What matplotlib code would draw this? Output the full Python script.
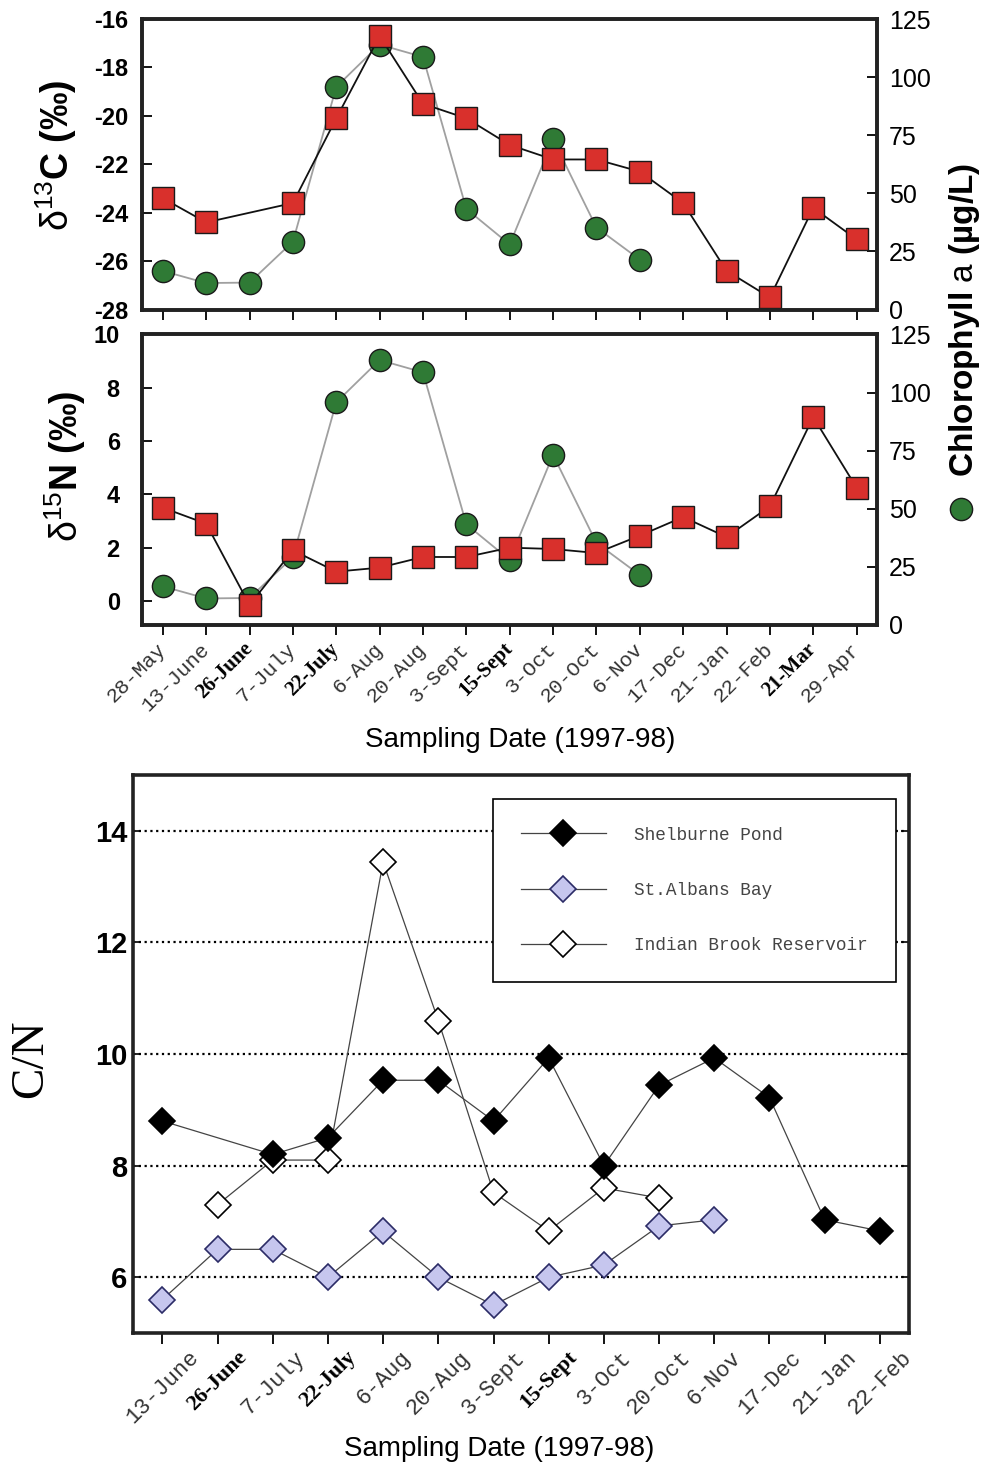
import numpy as np
import pandas as pd
import matplotlib
matplotlib.use('Agg')
import matplotlib.pyplot as plt
from matplotlib.lines import Line2D

plt.rcParams['font.family'] = ['Liberation Sans', 'DejaVu Sans']
plt.rcParams['mathtext.fontset'] = 'custom'
plt.rcParams['mathtext.rm'] = 'Liberation Sans'
plt.rcParams['mathtext.it'] = 'Liberation Sans:italic'
plt.rcParams['mathtext.bf'] = 'Liberation Sans:bold'

# Isotope / chlorophyll data (top two panels)
dates_iso = ['28-May', '13-June', '26-June', '7-July', '22-July', '6-Aug', '20-Aug',
             '3-Sept', '15-Sept', '3-Oct', '20-Oct', '6-Nov', '17-Dec', '21-Jan',
             '22-Feb', '21-Mar', '29-Apr']
d13c = [-23.4, -24.4, np.nan, -23.6, -20.1, -16.7, -19.5, -20.1, -21.2, -21.8,
        -21.8, -22.3, -23.6, -26.4, -27.5, -23.8, -25.1]
d15n = [3.5, 2.9, -0.15, 1.9, 1.1, 1.25, 1.65, 1.65, 2.0, 1.95, 1.8, 2.45,
        3.15, 2.4, 3.55, 6.9, 4.25]
chl_a = [16.6, 11.4, 11.6, 29.2, 95.8, 114.0, 108.7, 43.3, 28.0, 73.2, 35.3, 21.5]

# C/N data (bottom panel)
dates_cn = ['13-June', '26-June', '7-July', '22-July', '6-Aug', '20-Aug', '3-Sept',
            '15-Sept', '3-Oct', '20-Oct', '6-Nov', '17-Dec', '21-Jan', '22-Feb']
shelburne = [8.8, np.nan, 8.2, 8.5, 9.53, 9.53, 8.8, 9.93, 8.0, 9.44, 9.93, 9.22, 7.03, 6.83]
st_albans = [5.6, 6.5, 6.5, 6.0, 6.82, 6.0, 5.5, 6.0, 6.22, 6.92, 7.03, np.nan, np.nan, np.nan]
indian_brook = [np.nan, 7.3, 8.1, 8.1, 13.44, 10.6, 7.52, 6.83, 7.6, 7.42, np.nan, np.nan, np.nan, np.nan]
cn_names = ['Shelburne Pond', 'St.Albans Bay', 'Indian Brook Reservoir']

bold_dates = ['26-June', '22-July', '15-Sept', '21-Mar']

RED = '#d9302c'
GREEN = '#2f7a35'


def series(values):
    s = pd.Series(values, dtype=float).dropna()
    return s.index.values, s.values


def style_ticklabels(labels):
    for lbl in labels:
        if lbl.get_text() in bold_dates:
            lbl.set_fontfamily('Liberation Serif')
            lbl.set_fontweight('bold')
        else:
            lbl.set_fontfamily('Liberation Mono')
            lbl.set_color('#333333')


fig = plt.figure(figsize=(9.86, 14.67), dpi=100)

ax1 = fig.add_axes([0.144, 0.789, 0.745, 0.198])
ax1r = ax1.twinx()
ax2 = fig.add_axes([0.144, 0.574, 0.745, 0.198])
ax2r = ax2.twinx()
ax3 = fig.add_axes([0.135, 0.0913, 0.787, 0.3804])

x_iso = np.arange(len(dates_iso))

# top and middle panels
for ax, axr, vals, ylim, yticks, pad in [
        (ax1, ax1r, d13c, (-28, -16), range(-28, -15, 2), 10),
        (ax2, ax2r, d15n, (-0.9, 10), range(0, 11, 2), 16)]:
    xs, ys = series(chl_a)
    axr.plot(xs, ys, color='#a0a0a0', lw=1.3, marker='o', ms=16,
             mfc=GREEN, mec='#1a1a1a', mew=1.0)
    xs, ys = series(vals)
    ax.plot(xs, ys, color='#111111', lw=1.3, marker='s', ms=15.5,
            mfc=RED, mec='#1a1a1a', mew=1.0)
    ax.set_zorder(axr.get_zorder() + 1)
    ax.patch.set_visible(False)

    ax.set_xlim(-0.48, 16.46)
    ax.set_ylim(*ylim)
    ax.set_yticks(list(yticks), [str(t) for t in yticks], fontweight='bold')
    ax.tick_params(axis='y', direction='in', length=7, width=1.3, labelsize=17, pad=pad)
    ax.tick_params(axis='x', direction='out', length=7, width=1.3)
    ax.set_xticks(x_iso)

    axr.set_ylim(0, 125)
    axr.set_yticks(range(0, 126, 25))
    axr.tick_params(axis='y', direction='in', length=7, width=1.3, labelsize=18, pad=9)
    for a in (ax, axr):
        for sp in a.spines.values():
            sp.set_linewidth(2.6)
            sp.set_color('#222222')

ax1.tick_params(axis='x', labelbottom=False)
ax2.set_xticklabels(dates_iso, rotation=45, ha='right', va='center',
                    rotation_mode='anchor', fontsize=15)
ax2.tick_params(axis='x', pad=8)
style_ticklabels(ax2.get_xticklabels())

fig.text(0.057, 0.894, r'$\mathrm{\delta^{13}}$C (‰)', rotation=90, fontsize=27,
         fontweight='bold', ha='center', va='center')
fig.text(0.066, 0.682, r'$\mathrm{\delta^{15}}$N (‰)', rotation=90, fontsize=27,
         fontweight='bold', ha='center', va='center')
fig.text(0.978, 0.782, r'Chlorophyll $\mathrm{a}$ (µg/L)', rotation=90, fontsize=24,
         fontweight='bold', ha='center', va='center')
fig.add_artist(Line2D([0.9745], [0.653], transform=fig.transFigure, marker='o', ms=16,
                      mfc=GREEN, mec='#1a1a1a', mew=1.0, ls='none'))
fig.text(0.528, 0.4956, 'Sampling Date (1997-98)', fontsize=20, ha='center', va='center')

# bottom panel: C/N
x_cn = np.arange(len(dates_cn))
line_kw = dict(color='#444444', lw=0.9, marker='D', ms=13.5, mew=1.2)
xs, ys = series(indian_brook)
l_ind, = ax3.plot(xs, ys, mfc='white', mec='black', zorder=3, **line_kw)
xs, ys = series(st_albans)
l_alb, = ax3.plot(xs, ys, mfc='#c6c6ee', mec='#2b2b66', zorder=3, **line_kw)
xs, ys = series(shelburne)
l_shel, = ax3.plot(xs, ys, mfc='black', mec='black', zorder=4, **line_kw)

ax3.set_xlim(-0.53, 13.53)
ax3.set_ylim(5, 15)
ax3.set_yticks(range(6, 15, 2), [str(t) for t in range(6, 15, 2)], fontweight='bold')
ax3.yaxis.grid(True, linestyle=(0, (1, 1.6)), color='black', lw=1.6)
ax3.tick_params(axis='y', direction='in', length=6, width=1.2, labelsize=21, pad=4,
                right=True)
ax3.tick_params(axis='x', direction='out', length=8, width=1.3, pad=2)
ax3.set_xticks(x_cn)
ax3.set_xticklabels(dates_cn, rotation=45, ha='center', va='top', fontsize=16)
style_ticklabels(ax3.get_xticklabels())
for sp in ax3.spines.values():
    sp.set_linewidth(2.6)
    sp.set_color('#222222')

leg = ax3.legend([l_shel, l_alb, l_ind], cn_names, loc='upper left',
                 bbox_to_anchor=(0.464, 0.957), borderaxespad=0, frameon=True,
                 fancybox=False, edgecolor='black', framealpha=1,
                 prop={'family': 'Liberation Mono', 'size': 12.8},
                 handlelength=4.8, handletextpad=1.6, labelspacing=2.15, borderpad=1.55)
leg.get_frame().set_linewidth(1.2)
for t in leg.get_texts():
    t.set_color('#444444')

fig.text(0.031, 0.278, 'C/N', rotation=90, fontsize=34, family='Liberation Serif',
         ha='center', va='center')
fig.text(0.506, 0.0123, 'Sampling Date (1997-98)', fontsize=20, ha='center', va='center')

fig.savefig('out.png', dpi=100)
